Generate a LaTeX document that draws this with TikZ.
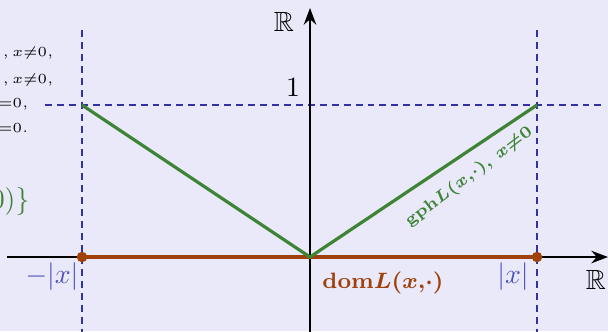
\documentclass[tikz,border=0pt]{standalone}
\usepackage{amsmath,amssymb}
\usetikzlibrary{arrows.meta}
\definecolor{bgc}{RGB}{233,233,250}
\definecolor{dblue}{RGB}{50,50,165}
\definecolor{lblue}{RGB}{80,80,190}
\definecolor{gcol}{RGB}{62,132,52}
\definecolor{ocol}{RGB}{160,65,10}
\newcommand{\domlabel}{$\mathbf{dom}L(x,\!\cdot)$}
\newcommand{\gphlabel}{$\mathbf{gph}L(x,\!\cdot),\,x{\neq}0$}
\tikzset{
  axis/.style={line width=0.75pt,-{Stealth[length=6pt,width=4.5pt]}},
  guide/.style={dblue,line width=0.65pt,dash pattern=on 2.5pt off 1.8pt},
  graphline/.style={gcol,line width=1.15pt},
  domline/.style={ocol,line width=1.15pt},
  enddot/.style={circle,fill=ocol,inner sep=0pt,minimum size=3.8pt},
  lbl/.style={inner sep=1pt},
  boldlbl/.style={inner sep=1pt,font=\boldmath},
  tinytext/.style={font=\fontsize{4.9}{6}\selectfont,anchor=east,inner sep=0pt},
}
\begin{document}
\begin{tikzpicture}[x=0.36pt,y=-0.36pt]
\fill[bgc] (0,0) rectangle (608,331);
\useasboundingbox (0,0) rectangle (608,331);
% key points
\coordinate (O) at (310,257);
\coordinate (P) at (82,105);
\coordinate (Q) at (537,105);
\coordinate (xl) at (7,257);
\coordinate (xr) at (608,257);
\coordinate (yb) at (310,340);
\coordinate (yt) at (310,8);
\coordinate (hl) at (45,105);
\coordinate (hr) at (602,105);
\coordinate (vlt) at (82,30);
\coordinate (vlb) at (82,340);
\coordinate (vrt) at (537,30);
\coordinate (vrb) at (537,340);
% guides
\draw[guide] (hl) -- (hr);
\draw[guide] (vlt) -- (vlb);
\draw[guide] (vrt) -- (vrb);
% axes
\draw[axis] (xl) -- (xr);
\draw[axis] (yb) -- (yt);
% domain
\coordinate (A) at (82,257);
\coordinate (B) at (537,257);
\draw[domline] (A) -- (B);
\node[enddot] (Ad) at (A) {};
\node[enddot] (Bd) at (B) {};
% graph
\draw[graphline] (P) -- (O) -- (Q);
% labels
\node[lbl] (R1) at (284,22) {$\mathbb{R}$};
\node[lbl] (R2) at (596,280) {$\mathbb{R}$};
\node[lbl] (one) at (293,88) {$1$};
\node[lbl,text=lblue] (mx) at (52,277) {$-|x|$};
\node[lbl,text=lblue] (px) at (513,277) {$|x|$};
\node[boldlbl,text=ocol] (domL) at (383,283) {\fontsize{8.1}{10}\selectfont\domlabel};
\node[boldlbl,text=gcol,rotate=37] (gphL) at (469,177) {\fontsize{6}{8}\selectfont\gphlabel};
% left text (cut off)
\node[tinytext] (t1) at (54,53) {$L(x,y)=|y|/|x|,x{\neq}0,$};
\node[tinytext] (t2) at (54,80) {$|y|{\geq}|x|,x{\neq}0,$};
\node[tinytext] (t3) at (29,104) {$y{=}0,x{=}0,$};
\node[tinytext] (t4) at (29,129) {$y{\neq}0,x{=}0.$};
\node[anchor=east,inner sep=0pt,text=gcol] (t5) at (30,202) {$\operatorname{gph}L(0,\cdot)=\{(0,0)\}$};
\end{tikzpicture}
\end{document}
